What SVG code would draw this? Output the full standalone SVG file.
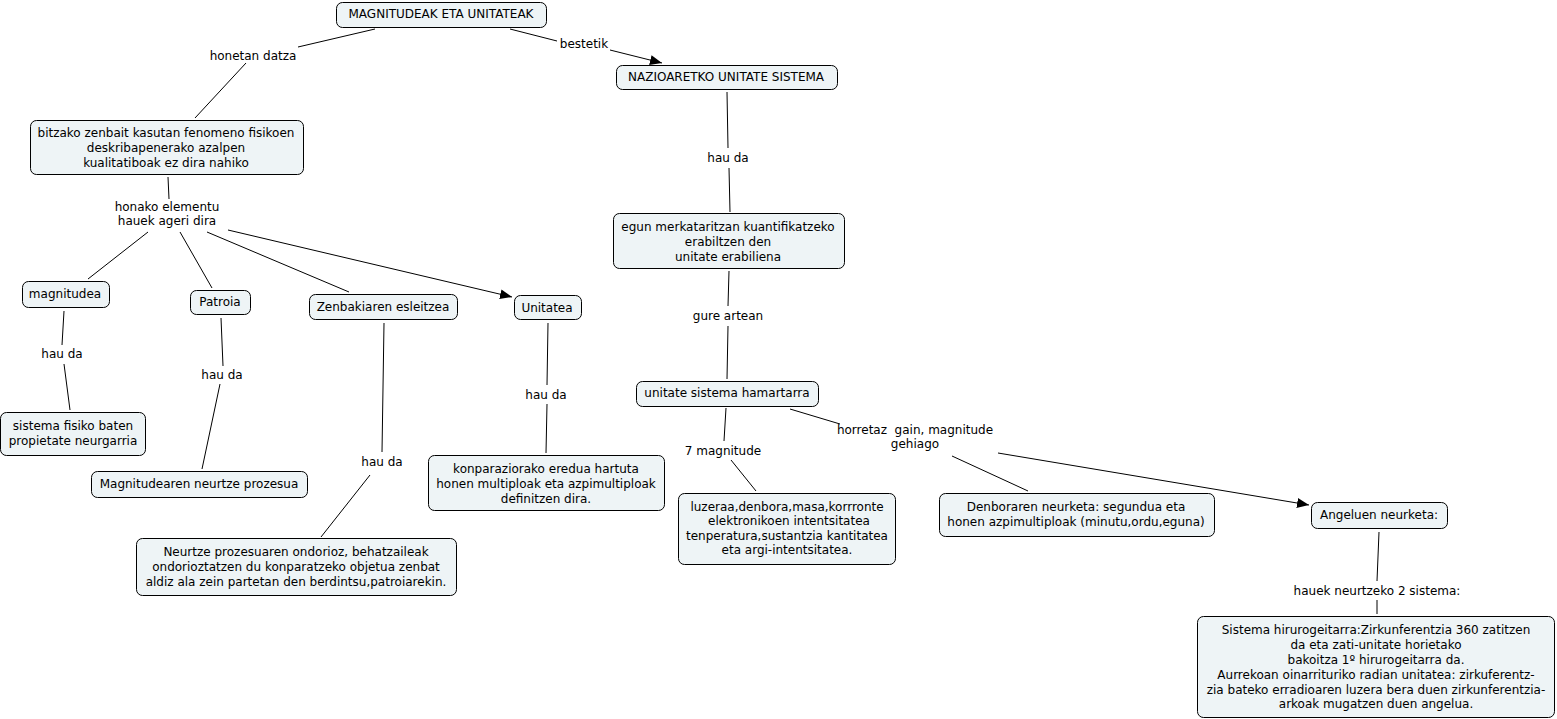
<svg xmlns="http://www.w3.org/2000/svg" width="1557" height="719" viewBox="0 0 1557 719">
<style>
.n rect{fill:#eef4f6;stroke:#000;stroke-width:1}
text{font-family:"DejaVu Sans",Verdana,sans-serif;font-size:12px;fill:#000;text-anchor:middle}
.c line{stroke:#000;stroke-width:1}
.pre{white-space:pre}
</style>
<defs>
<marker id="ah" viewBox="0 0 12 10" refX="12" refY="5" markerWidth="12" markerHeight="10" markerUnits="userSpaceOnUse" orient="auto">
<path d="M0,0 L12,5 L0,10 z" fill="#000"/>
</marker>
</defs>
<rect width="1557" height="719" fill="#fff"/>
<g class="c" id="connectors">
<line x1="375" y1="29" x2="298" y2="47"/>
<line x1="246" y1="63" x2="195" y2="118"/>
<line x1="510" y1="29" x2="557" y2="41"/>
<line x1="610" y1="50" x2="662" y2="63" marker-end="url(#ah)"/>
<line x1="727" y1="92" x2="728" y2="148"/>
<line x1="729" y1="168" x2="730" y2="212"/>
<line x1="729" y1="271" x2="728" y2="306"/>
<line x1="728" y1="326" x2="727" y2="379"/>
<line x1="168" y1="177" x2="169" y2="199"/>
<line x1="148" y1="232" x2="88" y2="279"/>
<line x1="180" y1="232" x2="212" y2="288"/>
<line x1="207" y1="232" x2="349" y2="292"/>
<line x1="228" y1="230" x2="512" y2="297" marker-end="url(#ah)"/>
<line x1="64" y1="311" x2="62" y2="345"/>
<line x1="64" y1="364" x2="70" y2="410"/>
<line x1="221" y1="318" x2="223" y2="366"/>
<line x1="220" y1="384" x2="202" y2="469"/>
<line x1="384" y1="323" x2="382" y2="452"/>
<line x1="370" y1="475" x2="321" y2="537"/>
<line x1="548" y1="323" x2="547" y2="385"/>
<line x1="547" y1="404" x2="546" y2="453"/>
<line x1="726" y1="408" x2="724" y2="441"/>
<line x1="731" y1="460" x2="756" y2="491"/>
<line x1="790" y1="409" x2="840" y2="424"/>
<line x1="952" y1="456" x2="1028" y2="491"/>
<line x1="998" y1="453" x2="1309" y2="505" marker-end="url(#ah)"/>
<line x1="1379" y1="532" x2="1377" y2="581"/>
<line x1="1377" y1="600" x2="1377" y2="614"/>
</g>
<g id="labels">
<text x="253" y="60">honetan datza</text>
<text x="584" y="48">bestetik</text>
<text x="728" y="162">hau da</text>
<text x="167" y="211">honako elementu</text>
<text x="167" y="225">hauek ageri dira</text>
<text x="728" y="320">gure artean</text>
<text x="62" y="358">hau da</text>
<text x="222" y="379">hau da</text>
<text x="382" y="466">hau da</text>
<text x="546" y="399">hau da</text>
<text x="723" y="455">7 magnitude</text>
<text x="915" y="434" class="pre">horretaz  gain, magnitude</text>
<text x="915" y="448">gehiago</text>
<text x="1377" y="595">hauek neurtzeko 2 sistema:</text>
</g>
<g class="n" id="n1"><rect x="336.5" y="2.5" width="210" height="25" rx="6"/><text x="441" y="18">MAGNITUDEAK ETA UNITATEAK</text></g>
<g class="n" id="n2"><rect x="616.5" y="65.5" width="221" height="24" rx="6"/><text x="726" y="81">NAZIOARETKO UNITATE SISTEMA</text></g>
<g class="n" id="n3"><rect x="30.5" y="120.5" width="273" height="54" rx="6"/><text x="166" y="137">bitzako zenbait kasutan fenomeno fisikoen</text><text x="166" y="152">deskribapenerako azalpen</text><text x="166" y="167">kualitatiboak ez dira nahiko</text></g>
<g class="n" id="n4"><rect x="613.5" y="213.5" width="231" height="55" rx="6"/><text x="728" y="231">egun merkataritzan kuantifikatzeko</text><text x="728" y="246">erabiltzen den</text><text x="728" y="261">unitate erabiliena</text></g>
<g class="n" id="n5"><rect x="22.5" y="281.5" width="87" height="26" rx="6"/><text x="65" y="298">magnitudea</text></g>
<g class="n" id="n6"><rect x="190.5" y="290.5" width="60" height="24" rx="6"/><text x="220" y="306">Patroia</text></g>
<g class="n" id="n7"><rect x="309.5" y="294.5" width="148" height="25" rx="6"/><text x="383" y="311">Zenbakiaren esleitzea</text></g>
<g class="n" id="n8"><rect x="514.5" y="295.5" width="67" height="24" rx="6"/><text x="547" y="312">Unitatea</text></g>
<g class="n" id="n9"><rect x="636.5" y="381.5" width="182" height="25" rx="6"/><text x="727" y="397">unitate sistema hamartarra</text></g>
<g class="n" id="n10"><rect x="0.5" y="412.5" width="145" height="43" rx="6"/><text x="73" y="430">sistema fisiko baten</text><text x="73" y="445">propietate neurgarria</text></g>
<g class="n" id="n11"><rect x="91.5" y="471.5" width="216" height="26" rx="6"/><text x="199" y="488">Magnitudearen neurtze prozesua</text></g>
<g class="n" id="n12"><rect x="428.5" y="455.5" width="236" height="55" rx="6"/><text x="546" y="473">konparaziorako eredua hartuta</text><text x="546" y="488">honen multiploak eta azpimultiploak</text><text x="546" y="503">definitzen dira.</text></g>
<g class="n" id="n13"><rect x="136.5" y="538.5" width="320" height="57" rx="6"/><text x="296" y="556">Neurtze prozesuaren ondorioz, behatzaileak</text><text x="296" y="571">ondorioztatzen du konparatzeko objetua zenbat</text><text x="296" y="586">aldiz ala zein partetan den berdintsu,patroiarekin.</text></g>
<g class="n" id="n14"><rect x="678.5" y="493.5" width="217" height="71" rx="6"/><text x="787" y="511">luzeraa,denbora,masa,korrronte</text><text x="789" y="525">elektronikoen intentsitatea</text><text x="787" y="540">tenperatura,sustantzia kantitatea</text><text x="787" y="554">eta argi-intentsitatea.</text></g>
<g class="n" id="n15"><rect x="939.5" y="493.5" width="275" height="43" rx="6"/><text x="1076" y="511">Denboraren neurketa: segundua eta</text><text x="1076" y="526">honen azpimultiploak (minutu,ordu,eguna)</text></g>
<g class="n" id="n16"><rect x="1311.5" y="502.5" width="136" height="26" rx="6"/><text x="1379" y="519">Angeluen neurketa:</text></g>
<g class="n" id="n17"><rect x="1197.5" y="616.5" width="357" height="101" rx="6"/><text x="1376" y="634">Sistema hirurogeitarra:Zirkunferentzia 360 zatitzen</text><text x="1376" y="649">da eta zati-unitate horietako</text><text x="1376" y="664">bakoitza 1º hirurogeitarra da.</text><text x="1376" y="679">Aurrekoan oinarrituriko radian unitatea: zirkuferentz-</text><text x="1376" y="694">zia bateko erradioaren luzera bera duen zirkunferentzia-</text><text x="1376" y="708">arkoak mugatzen duen angelua.</text></g>
</svg>
